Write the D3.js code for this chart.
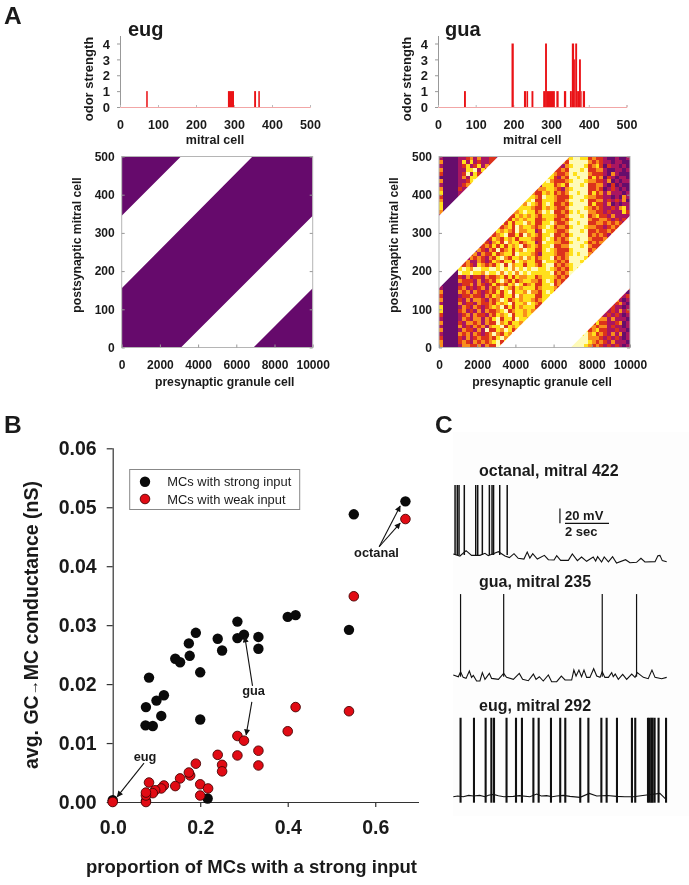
<!DOCTYPE html>
<html><head><meta charset="utf-8">
<script src="https://cdn.jsdelivr.net/npm/d3@7"></script>
<style>
html,body{margin:0;padding:0;background:#fff}
svg{display:block;filter:blur(0.35px)}
text{font-family:"Liberation Sans",Arial,sans-serif;font-weight:bold;fill:#1a1a1a}
</style></head><body>
<svg id="c" width="689" height="885"></svg>
<script>
// ---------- Panel A data ----------
const odorTicksX=[0,100,200,300,400,500];
const odorTicksY=[0,1,2,3,4];
// [from cell, to cell, strength]
const eugOdor=[[69,73,1],[284,300,1],[353,358,1],[364,368,1]];
const guaOdor=[[69,74,1],[195,201,4],[228,234,1],[235,239,1],[248,253,1],[279,284,1],[284,289,4],[289,310,1],[314,320,1],[334,340,1],[350,355,1],[355,361,4],[361,364,3],[364,369,4],[369,374,1],[374,379,3],[379,381,1],[384,390,1]];
const gcTicks=[0,2000,4000,6000,8000,10000];
const mcTicks=[0,100,200,300,400,500];
// connected regions, [granule cell, mitral cell]
const connected=[
 [[0,155],[6850,500],[10000,500],[10000,345],[3100,0],[0,0]],
 [[0,345],[0,500],[3100,500]],
 [[6900,0],[10000,155],[10000,0]]
];
// gua conductance class per cell, top row first (0 lowest .. 5 highest)
const guaGrid=[
"1 0000 112313112 21112222122 22 244 3223 45544 2322 1001 001",
"3 0000 141412112 22312123223 13 344 2232 55555 3232 1101 100",
"1 0000 124124131 12222322132 22 244 3213 45554 2342 0211 010",
"3 0000 114451421 23212322123 32 443 2232 55545 2233 1001 101",
"2 0000 125142211 22132232312 21 434 3223 54555 3222 1031 000",
"0 0000 131443112 13222132232 23 344 2132 55455 2423 0210 110",
"3 0000 112451211 23212123122 32 453 2223 45554 3322 1301 011",
"1 0000 123342112 12322233322 21 444 2342 55545 2233 1020 100",
"3 0000 211431121 23213232223 23 344 3213 45555 2232 0121 010",
"4 0000 111311111 33222133443 22 434 2323 55455 2423 1311 101",
"2 0000 111211111 22133224344 32 544 3222 45554 3322 1101 031",
"3 0000 111111111 23222343445 22 444 3223 55545 2233 1212 130",
"4 0000 111111111 32233424354 32 454 2232 45555 2422 1301 011",
"4 0000 111111111 22342344443 22 434 3223 55554 3232 1121 341",
"3 0000 111111111 23224334544 23 545 2232 45455 3322 1211 142",
"1 0000 121321232 23342243434 32 444 3223 55545 2342 2131 111",
"1 0000 212312132 24232434344 22 344 2232 45555 3223 3212 121",
"0 0000 132123213 33424244534 22 445 3223 55455 2233 2323 212",
"1 0000 213213123 43234253443 23 454 2332 45554 3322 1232 321",
"0 0000 121323212 24343253344 12 544 3223 55545 2232 2323 131",
"1 0000 312132123 23452242534 32 445 2232 45555 2323 2132 223",
"0 0000 123123212 43243424443 22 454 2323 55455 3222 3213 232",
"1 0000 213212321 34253442344 12 544 3322 45554 2323 3323 323",
"0 0000 321321232 42424345234 32 445 2233 55545 3222 3232 232",
"1 0000 122313213 25234243544 22 454 3222 45555 2323 2323 323",
"0 0000 212231322 42344254443 21 444 3223 45455 3232 3233 232",
"1 0000 131323213 24532443534 23 445 2323 55554 2323 2323 323",
"0 0000 123113212 43244254344 22 544 3232 55545 3232 3232 232",
"1 0000 323214323 24525344244 32 455 2323 45555 2323 2323 323",
"0 0000 454355445 54545354545 54 454 3232 45455 3232 3232 232",
"1 0000 544544354 45354535454 44 445 2323 55554 2323 2323 323",
"0 0000 213122132 23424243344 23 444 3232 55545 3232 3232 232",
"1 0000 322213123 24532423443 32 454 2323 45555 2323 2323 323",
"0 0000 122313212 42324354234 22 445 2323 45454 2323 2323 323",
"1 0000 231212313 23543243444 23 444 3232 55545 3232 3232 232",
"3 0000 323132123 24245244353 32 454 2323 45555 2323 2132 310",
"2 0000 122322132 43244253444 22 445 3232 45454 2323 3121 212",
"3 0000 213133213 23542343443 23 444 2323 55545 2323 2213 101",
"1 0000 312213223 24345244354 32 454 3232 45555 2342 1212 310",
"4 0000 132132123 43524243444 22 445 2323 45454 3232 3121 101",
"4 0000 231213132 23452344343 32 444 3232 55545 2243 2121 312",
"2 0000 123132213 24345244344 23 454 2323 45555 3232 1212 101",
"1 0000 132133132 45244254434 22 445 3232 45454 2333 3131 110",
"3 0000 213323132 25342443443 23 444 2323 55545 3242 2112 301",
"1 0000 312132313 44524344344 32 454 3232 45555 3323 3121 101",
"3 0000 132213152 24354234433 22 445 2323 45454 2342 2112 110",
"1 0000 323132123 53243543344 23 444 3232 55545 3423 2131 301",
"2 0000 213123223 24534243443 32 454 2323 55555 3332 1212 101",
"3 0000 232132323 45244254434 22 445 3232 55555 4323 2131 110",
"3 0000 133223132 25343243443 23 444 2323 55554 3232 1212 101"
];
const heatColors=["#660a6c","#aa1260","#dc321c","#f98e1b","#ffe01a","#fffbb8"];

// ---------- Panel B data ----------
const propTicks=[0,0.2,0.4,0.6];
const condTicks=[0,0.01,0.02,0.03,0.04,0.05,0.06];
const strongInput=[[0.669,0.051],[0.551,0.0488],[0.54,0.0292],[0.4,0.0314],[0.418,0.0317],[0.285,0.0306],[0.24,0.0277],[0.285,0.0278],[0.3,0.0284],[0.333,0.028],[0.333,0.026],[0.25,0.0257],[0.19,0.0287],[0.174,0.0269],[0.176,0.0248],[0.143,0.0243],[0.154,0.0237],[0.2,0.022],[0.083,0.0211],[0.1,0.0172],[0.117,0.0181],[0.076,0.0161],[0.111,0.0146],[0.2,0.014],[0.075,0.013],[0.0916,0.0129],[0.217,0.0006],[0,0.0003],[0.076,0.0002]];
const weakInput=[[0.669,0.048],[0.551,0.0349],[0.418,0.0161],[0.54,0.0154],[0.4,0.012],[0.285,0.0112],[0.3,0.0104],[0.333,0.0087],[0.333,0.0062],[0.285,0.0079],[0.24,0.008],[0.25,0.0063],[0.25,0.0052],[0.19,0.0065],[0.177,0.0045],[0.174,0.005],[0.154,0.004],[0.143,0.0027],[0.117,0.0028],[0.111,0.0023],[0.097,0.002],[0.0916,0.0015],[0.083,0.0033],[0.076,0],[0.076,0.0011],[0.076,0.0016],[0.2,0.003],[0.2,0.0011],[0.218,0.0023],[0,0]];
const arrows=[[[0.609,0.0433],[0.657,0.0502]],[[0.609,0.0433],[0.657,0.0473]],[[0.3195,0.0197],[0.302,0.028]],[[0.318,0.017],[0.305,0.0114]],[[0.0715,0.0066],[0.0105,0.0009]]];

// ---------- Panel C data: [time s, mV] ----------
const octanalTrace=[[0,-58.6],[.30,-61.4],[.58,-54.1],[.83,-60.5],[1.21,-60.5],[1.44,-57.7],[1.59,-60.9],[2.05,-55.5],[2.35,-61.4],[2.55,-63.6],[2.76,-58.2],[2.95,-64.5],[3.21,-65.5],[3.36,-55.9],[3.48,-64.1],[3.61,-58.2],[3.82,-65.5],[4.14,-60.5],[4.32,-66.4],[4.58,-66.8],[4.70,-60.9],[4.88,-67.3],[5.23,-67.3],[5.41,-58.6],[5.64,-67.7],[5.83,-62.7],[6.06,-68.6],[6.36,-62.7],[6.47,-68.2],[6.56,-62.3],[6.74,-69.5],[6.86,-62.7],[7.05,-69.5],[7.24,-62.3],[7.42,-70.9],[7.83,-66.4],[8.03,-70.5],[8.33,-70],[8.53,-64.5],[8.71,-69.5],[9.17,-69.1],[9.30,-60.9],[9.39,-60.5],[9.50,-67.7],[9.70,-69.1]];
const octanalSpikes=[.08,.18,.26,.50,1.02,1.11,1.32,1.64,1.76,1.83,2.11,2.45];
const guaTrace=[[0,-57.7],[.23,-60],[.33,-53.2],[.45,-60.9],[.58,-62.3],[.73,-52.3],[.83,-60.9],[.91,-58.2],[1.06,-65.9],[1.21,-65.9],[1.32,-54.5],[1.44,-63.6],[1.64,-55.5],[1.74,-62.3],[2.05,-63.6],[2.29,-55.5],[2.42,-60.9],[2.73,-63.6],[3.0,-55.5],[3.15,-63.6],[3.41,-65.5],[3.64,-56.4],[3.76,-63.6],[3.91,-60],[4.09,-65.9],[4.32,-57.7],[4.47,-66.8],[4.70,-66.8],[4.91,-59.1],[5.08,-64.5],[5.38,-64.5],[5.48,-50.9],[5.58,-59.1],[5.71,-50.9],[5.83,-60],[5.94,-50.9],[6.06,-60.9],[6.21,-60.9],[6.38,-49.1],[6.52,-59.1],[6.67,-60.9],[6.77,-53.2],[6.89,-60.9],[7.05,-60.9],[7.20,-54.5],[7.27,-60],[7.36,-56.4],[7.5,-63.6],[7.70,-56.8],[7.88,-63.6],[8.11,-56.4],[8.26,-60.9],[8.36,-54.5],[8.64,-60.9],[8.86,-62.7],[9.03,-50.9],[9.17,-60.9],[9.47,-62.7],[9.70,-60.9]];
const guaSpikes=[.33,2.29,6.77,8.33];
const eugTrace=[[0,-60],[.2,-59.1],[.45,-60],[.7,-58.2],[.91,-59],[1.2,-58.2],[1.44,-60],[1.6,-58],[1.82,-56.8],[2.05,-58.6],[2.3,-60],[2.73,-59.5],[3.0,-58.5],[3.48,-60],[3.79,-56.4],[4.0,-59],[4.24,-58.6],[4.5,-60],[4.70,-59.1],[5.0,-58.2],[5.30,-59.5],[5.76,-60.9],[6.18,-55.5],[6.52,-59.1],[7.0,-58.4],[7.42,-59.5],[7.8,-60],[8.18,-60],[8.79,-57.7],[9.39,-55.5],[9.67,-63.6]];
const eugSpikes=[.33,.94,1.47,1.73,1.85,2.42,2.85,3.12,3.64,3.88,4.44,4.86,5.09,5.77,6.14,6.73,6.97,7.44,8.12,8.27,8.85,8.92,9.0,9.06,9.15,9.33,9.67];
const traceTitles=["octanal, mitral 422","gua, mitral 235","eug, mitral 292"];

// ---------- drawing ----------
const svg=d3.select("#c");
const defs=svg.append("defs");
defs.append("filter").attr("id","soft").append("feGaussianBlur").attr("stdDeviation",0.55);
const label=(s,x,y,size,anchor="start",rot=0)=>svg.append("text").text(s).attr("font-size",size).attr("text-anchor",anchor)
  .attr("transform",`translate(${x},${y})`+(rot?` rotate(${rot})`:""));
label("A",4,23.5,24.5);label("B",4,432.7,24.5);label("C",435,432.7,24.5);

function styleAxis(g,color,size){
  g.selectAll(".domain").attr("stroke",color);
  g.selectAll(".tick line").attr("stroke",color);
  g.selectAll("text").attr("font-size",size).attr("font-family",'"Liberation Sans",Arial,sans-serif').attr("font-weight","bold").attr("fill","#1a1a1a");
}
function odorPanel(x0,x1,data,title,titleX){
  const x=d3.scaleLinear().domain([0,500]).range([x0,x1]);
  const y=d3.scaleLinear().domain([0,4]).range([107,43.5]);
  const gy=svg.append("g").attr("transform",`translate(${x0},0)`)
    .call(d3.axisLeft(y).tickValues(odorTicksY).tickSize(3).tickPadding(7).tickFormat(d3.format("d")));
  gy.select(".domain").attr("d",`M0.5,36V107`);
  styleAxis(gy,"#999",13);
  gy.selectAll("text").attr("dy","0.36em");
  const gx=svg.append("g").attr("transform",`translate(0,107)`)
    .call(d3.axisBottom(x).tickValues(odorTicksX).tickSize(-2).tickPadding(13).tickFormat(d3.format("d")));
  styleAxis(gx,"#bbb",12.5);
  gx.select(".domain").attr("stroke","#f2a6a6");
  svg.append("g").selectAll("rect").data(data).join("rect")
    .attr("x",d=>x(d[0])).attr("width",d=>x(d[1])-x(d[0]))
    .attr("y",d=>y(d[2])).attr("height",d=>y(0)-y(d[2])).attr("fill","#ea1216");
  label("mitral cell",(x0+x1)/2,143.5,12.5,"middle");
  label("odor strength",x0-27.5,79,13,"middle",-90);
  label(title,titleX,36,20);
}
odorPanel(120,310,eugOdor,"eug",128);
odorPanel(438,626.5,guaOdor,"gua",445);

function heatPanel(x0,id,grid){
  const x1=x0+191, y0=347.5, yT=156.5;
  const x=d3.scaleLinear().domain([0,10000]).range([x0,x1]);
  const y=d3.scaleLinear().domain([0,500]).range([y0,yT]);
  const clip=svg.append("clipPath").attr("id",id);
  clip.selectAll("path").data(connected).join("path")
    .attr("d",d=>d3.line().x(p=>x(p[0])).y(p=>y(p[1]))(d)+"Z");
  const g=svg.append("g").attr("clip-path",`url(#${id})`);
  if(grid){
    const rows=grid.map(r=>r.replace(/ /g,""));
    const bx=d3.scaleBand().domain(d3.range(50)).range([x0,x1]);
    const by=d3.scaleBand().domain(d3.range(50)).range([yT,y0]);
    const inner=g.append("g").attr("filter","url(#soft)").attr("shape-rendering","crispEdges");
    rows.forEach((r,ri)=>{
      inner.append("g").selectAll("rect").data(r.split("")).join("rect")
       .attr("x",(d,i)=>bx(i)).attr("y",by(ri)).attr("width",bx.bandwidth()+.5).attr("height",by.bandwidth()+.5)
       .attr("fill",d=>heatColors[+d]);
    });
  } else {
    g.append("rect").attr("x",x0).attr("y",yT).attr("width",x1-x0).attr("height",y0-yT).attr("fill",heatColors[0]);
  }
  svg.append("rect").attr("x",x0).attr("y",yT).attr("width",x1-x0).attr("height",y0-yT).attr("fill","none").attr("stroke","#b5b5b5");
  const gx=svg.append("g").attr("transform",`translate(0,${y0})`)
    .call(d3.axisBottom(x).tickValues(gcTicks).tickSize(-3).tickPadding(13).tickFormat(d3.format("d")));
  gx.select(".domain").remove();styleAxis(gx,"#999",12);
  const gy=svg.append("g").attr("transform",`translate(${x0},0)`)
    .call(d3.axisLeft(y).tickValues(mcTicks).tickSize(-3).tickPadding(7).tickFormat(d3.format("d")));
  gy.select(".domain").remove();styleAxis(gy,"#999",12);
  const gr=svg.append("g").attr("transform",`translate(${x1},0)`)
    .call(d3.axisRight(y).tickValues(mcTicks).tickSize(-3).tickFormat(""));
  gr.select(".domain").remove();styleAxis(gr,"#999",12);
  label("presynaptic granule cell",x0+103,386,12.2,"middle");
  label("postsynaptic mitral cell",x0-41,245,12.2,"middle",-90);
}
heatPanel(121.7,"cEug",null);
heatPanel(439,"cGua",guaGrid);

// Panel B
const xB=d3.scaleLinear().domain([0,0.7]).range([112.7,419]);
const yB=d3.scaleLinear().domain([0,0.06]).range([802,448.3]);
const gxB=svg.append("g").attr("transform","translate(0,802)")
  .call(d3.axisBottom(xB).tickValues(propTicks).tickSize(5).tickPadding(13).tickFormat(d3.format(".1f")));
styleAxis(gxB,"#333",19.5);gxB.selectAll(".domain,.tick line").attr("stroke-width",1.2);
gxB.select(".domain").attr("d",`M${xB(0)},0.5H${xB(0.7)}`);
const gyB=svg.append("g").attr("transform","translate(112.7,0)")
  .call(d3.axisLeft(yB).tickValues(condTicks).tickSize(6).tickPadding(10).tickFormat(d3.format(".2f")));
styleAxis(gyB,"#333",19.5);gyB.selectAll(".domain,.tick line").attr("stroke-width",1.2);
gyB.select(".domain").attr("d",`M0.5,${yB(0.06)}V${yB(0)}`);
const yt=label("",38,625,19.5,"middle",-90);
yt.append("tspan").text("avg. GC");
yt.append("tspan").text("→").attr("font-size",15);
yt.append("tspan").text("MC conductance (nS)");
label("proportion of MCs with a strong input",251.5,872.5,18.5,"middle");

svg.append("g").selectAll("circle").data(strongInput).join("circle")
  .attr("cx",d=>xB(d[0])).attr("cy",d=>yB(d[1])).attr("r",5.2).attr("fill","#0a0a0a");
svg.append("g").selectAll("circle").data(weakInput).join("circle")
  .attr("cx",d=>xB(d[0])).attr("cy",d=>yB(d[1])).attr("r",4.8).attr("fill","#e10b14").attr("stroke","#4a0505").attr("stroke-width",.9);

svg.append("rect").attr("x",129.7).attr("y",469.5).attr("width",170).attr("height",40).attr("fill","#fff").attr("stroke","#888");
svg.append("circle").attr("cx",145).attr("cy",481.7).attr("r",5.2).attr("fill","#0a0a0a");
svg.append("circle").attr("cx",145).attr("cy",499).attr("r",4.8).attr("fill","#e10b14").attr("stroke","#4a0505").attr("stroke-width",.9);
[["MCs with strong input",486],["MCs with weak input",503.5]].forEach(d=>{
  label(d[0],167.3,d[1],12.9).style("font-weight","normal");
});

defs.append("marker").attr("id","ah").attr("viewBox","0 0 10 10").attr("refX",9).attr("refY",5)
  .attr("markerWidth",7).attr("markerHeight",6).attr("markerUnits","userSpaceOnUse").attr("orient","auto")
  .append("path").attr("d","M0,0L10,5L0,10Z").attr("fill","#111");
svg.append("g").selectAll("line").data(arrows).join("line")
  .attr("x1",d=>xB(d[0][0])).attr("y1",d=>yB(d[0][1])).attr("x2",d=>xB(d[1][0])).attr("y2",d=>yB(d[1][1]))
  .attr("stroke","#111").attr("stroke-width",1.1).attr("marker-end","url(#ah)");
label("octanal",376.5,556.7,12.8,"middle");
label("gua",253.5,695,12.8,"middle");
label("eug",145,760.7,12.8,"middle");

// Panel C
svg.append("rect").attr("x",453).attr("y",432).attr("width",236).attr("height",384).attr("fill","#fdfdfd");
const xC=d3.scaleLinear().domain([0,9.7]).range([453.3,666.7]);
function trace(points,spikes,y60,top,under,sw,title,titleY){
  const y=d3.scaleLinear().domain([-60,40]).range([y60,y60-73.3]);
  svg.append("path").datum(points).attr("fill","none").attr("stroke","#111").attr("stroke-width",1.1)
    .attr("d",d3.line().x(d=>xC(d[0])).y(d=>y(d[1])));
  svg.append("g").selectAll("line").data(spikes).join("line")
    .attr("x1",d=>xC(d)).attr("x2",d=>xC(d)).attr("y1",y(top)).attr("y2",y(under))
    .attr("stroke","#111").attr("stroke-width",sw);
  label(title,479,titleY,16);
}
trace(octanalTrace,octanalSpikes,555,35.5,-60,1.5,traceTitles[0],476);
trace(guaTrace,guaSpikes,676.7,52.7,-60,1.2,traceTitles[1],586.7);
trace(eugTrace,eugSpikes,796.7,47.7,-68.2,2.1,traceTitles[2],710.7);
const yS=d3.scaleLinear().domain([0,20]).range([523.3,508.6]);
const xS=d3.scaleLinear().domain([0,2]).range([565,609]);
svg.append("line").attr("x1",xS(-0.23)).attr("x2",xS(-0.23)).attr("y1",yS(0)).attr("y2",yS(20)).attr("stroke","#111").attr("stroke-width",1.2);
svg.append("line").attr("x1",xS(0)).attr("x2",xS(2)).attr("y1",yS(0)).attr("y2",yS(0)).attr("stroke","#111").attr("stroke-width",1.2);
label("20 mV",565,520,13);
label("2 sec",565,536,13);
</script>
</body></html>
